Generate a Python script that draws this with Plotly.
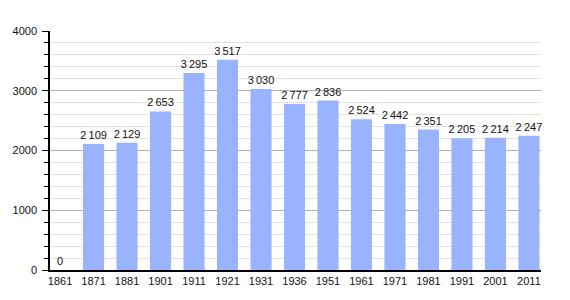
import plotly.graph_objects as go

years = ["1861", "1871", "1881", "1901", "1911", "1921", "1931", "1936",
         "1951", "1961", "1971", "1981", "1991", "2001", "2011"]
population = [0, 2109, 2129, 2653, 3295, 3517, 3030, 2777, 2836, 2524,
              2442, 2351, 2205, 2214, 2247]

labels = [f"{v:,}".replace(",", "\u2009") for v in population]
xpos = list(range(len(years)))

fig = go.Figure(go.Bar(
    x=xpos, y=population, text=labels, textposition="outside",
    constraintext="none",
    cliponaxis=False, width=0.63,
    marker=dict(color="#99B3FF", line=dict(width=0)),
    textfont=dict(family="Liberation Sans, Arial", size=11, color="#111"),
    outsidetextfont=dict(family="Liberation Sans, Arial", size=11, color="#111"),
    insidetextfont=dict(family="Liberation Sans, Arial", size=11, color="#111"),
    hoverinfo="skip",
))

fig.update_layout(
    width=570, height=300,
    margin=dict(l=50, r=29, t=31, b=30),
    paper_bgcolor="white", plot_bgcolor="white",
    font=dict(family="Liberation Sans, Arial", size=11, color="#111"),
    showlegend=False,
    xaxis=dict(
        range=[-0.3, 14.36], tickmode="array", tickvals=xpos, ticktext=years,
        showgrid=False, zeroline=False, showline=True, linecolor="black",
        linewidth=1.5, ticks="", tickfont=dict(size=11), ticklabelstandoff=0,
    ),
    yaxis=dict(
        range=[0, 4000], dtick=1000, tick0=0, showgrid=True, gridcolor="#b0b0b0",
        gridwidth=1, zeroline=False, showline=True, linecolor="black",
        linewidth=1.5, ticks="outside", ticklen=6, tickcolor="black",
        tickfont=dict(size=11), ticklabelstandoff=3,
        minor=dict(dtick=200, showgrid=True, gridcolor="#e2e2e2", ticks="outside",
                   ticklen=4, tickcolor="black"),
    ),
)

fig.write_html("out.html")
